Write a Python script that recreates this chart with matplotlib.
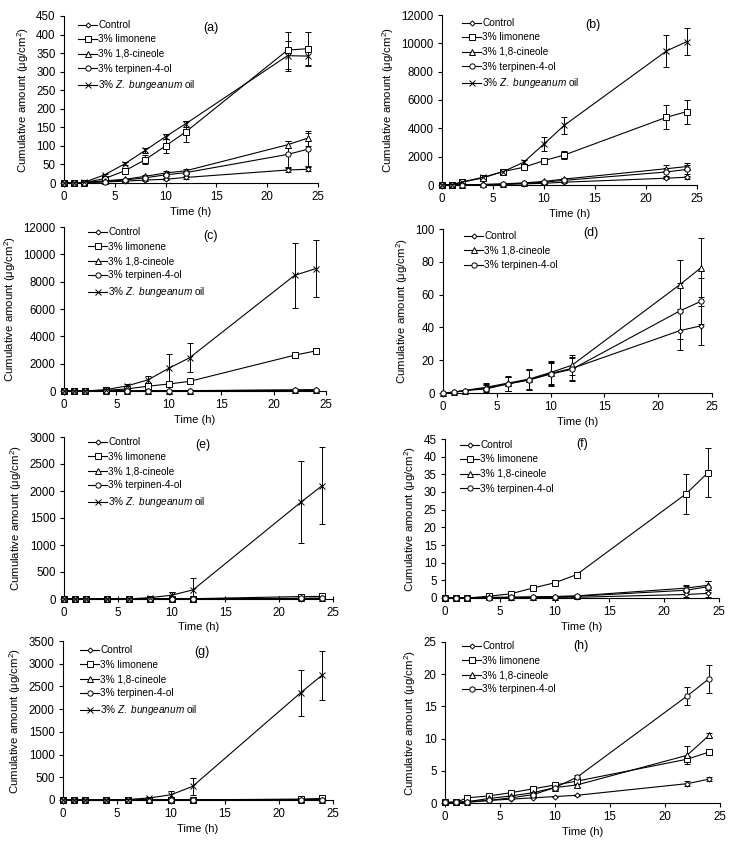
import matplotlib
matplotlib.use('Agg')
import matplotlib.pyplot as plt

plt.rcParams['font.family'] = ['Liberation Sans', 'DejaVu Sans']
plt.rcParams['mathtext.fontset'] = 'custom'
plt.rcParams['mathtext.rm'] = 'Liberation Sans'
plt.rcParams['mathtext.it'] = 'Liberation Sans:italic'

time = [0, 1, 2, 4, 6, 8, 10, 12, 22, 24]

labels = ['Control', '3% limonene', '3% 1,8-cineole', '3% terpinen-4-ol',
          r'3% $\mathit{Z.\ bungeanum}$ oil']

# panel (a)
a_mean = {
    'control':   [0, 0, 1, 3, 5, 8, 10, 15, 35, 37],
    'limonene':  [0, 0, 1, 12, 33, 63, 100, 138, 358, 362],
    'cineole':   [0, 0, 1, 6, 10, 18, 27, 33, 103, 121],
    'terpinen':  [0, 0, 1, 4, 8, 14, 22, 28, 77, 91],
    'zb':        [0, 0, 2, 22, 52, 88, 125, 160, 343, 342],
}
a_err = {
    'control':   [0, 0, 0, 1, 1, 2, 3, 3, 5, 6],
    'limonene':  [0, 0, 0, 3, 8, 12, 18, 28, 50, 45],
    'cineole':   [0, 0, 0, 1, 2, 3, 4, 5, 10, 20],
    'terpinen':  [0, 0, 0, 1, 2, 3, 4, 5, 35, 45],
    'zb':        [0, 0, 0, 3, 4, 6, 7, 8, 40, 28],
}

# panel (b)
b_mean = {
    'control':   [0, 0, 5, 20, 40, 80, 120, 200, 480, 550],
    'limonene':  [0, 30, 200, 500, 950, 1250, 1720, 2120, 4780, 5180],
    'cineole':   [0, 0, 10, 40, 80, 150, 250, 420, 1150, 1300],
    'terpinen':  [0, 0, 10, 30, 60, 120, 200, 330, 920, 1100],
    'zb':        [0, 30, 220, 540, 950, 1600, 2900, 4220, 9460, 10120],
}
b_err = {
    'control':   [0, 0, 0, 5, 10, 20, 30, 40, 80, 100],
    'limonene':  [0, 0, 20, 50, 80, 120, 200, 300, 850, 850],
    'cineole':   [0, 0, 0, 10, 20, 30, 50, 80, 250, 250],
    'terpinen':  [0, 0, 0, 10, 20, 30, 50, 80, 300, 300],
    'zb':        [0, 0, 20, 60, 100, 150, 500, 600, 1150, 950],
}

# panel (c)
c_mean = {
    'control':   [0, 0, 0, 2, 4, 6, 10, 12, 40, 50],
    'limonene':  [0, 0, 0, 50, 150, 350, 510, 710, 2620, 2930],
    'cineole':   [0, 0, 0, 5, 10, 15, 20, 30, 80, 100],
    'terpinen':  [0, 0, 0, 3, 6, 10, 15, 20, 60, 70],
    'zb':        [0, 0, 0, 100, 370, 810, 1660, 2440, 8460, 8950],
}
c_err = {
    'control':   [0, 0, 0, 1, 2, 3, 4, 5, 10, 15],
    'limonene':  [0, 0, 0, 20, 40, 60, 80, 100, 150, 200],
    'cineole':   [0, 0, 0, 2, 3, 5, 6, 8, 20, 25],
    'terpinen':  [0, 0, 0, 1, 2, 3, 5, 6, 15, 20],
    'zb':        [0, 0, 0, 60, 150, 300, 1050, 1070, 2400, 2100],
}

# panel (d)
d_mean = {
    'control':   [0, 0.5, 1.5, 3, 5.5, 8, 12, 15, 38, 41],
    'cineole':   [0, 0.5, 1.5, 3.5, 6, 8.5, 12.5, 17, 66, 76.5],
    'terpinen':  [0, 0.5, 1.5, 2.5, 5.5, 8, 11.5, 14.5, 50, 56],
}
d_err = {
    'control':   [0, 0.3, 0.5, 2.5, 4.5, 6, 7, 7, 11.5, 12],
    'cineole':   [0, 0.3, 0.5, 2.5, 4.5, 6, 7, 6, 15, 18],
    'terpinen':  [0, 0.3, 0.5, 2.5, 4.5, 6, 7, 7, 17, 14],
}

# panel (e)
e_mean = {
    'control':   [0, 0, 0, 0, 0, 1, 2, 3, 8, 10],
    'limonene':  [0, 0, 0, 0, 1, 2, 4, 6, 45, 48],
    'cineole':   [0, 0, 0, 0, 0, 1, 2, 3, 12, 15],
    'terpinen':  [0, 0, 0, 0, 0, 1, 2, 3, 10, 12],
    'zb':        [0, 0, 0, 0, 2, 25, 70, 170, 1790, 2100],
}
e_err = {
    'control':   [0, 0, 0, 0, 0, 0, 1, 1, 3, 4],
    'limonene':  [0, 0, 0, 0, 0, 1, 2, 3, 20, 20],
    'cineole':   [0, 0, 0, 0, 0, 0, 1, 1, 5, 6],
    'terpinen':  [0, 0, 0, 0, 0, 0, 1, 1, 5, 6],
    'zb':        [0, 0, 0, 0, 2, 15, 65, 220, 760, 720],
}

# panel (f)
f_mean = {
    'control':   [0, 0, 0, 0, 0.1, 0.1, 0.2, 0.2, 1.0, 1.3],
    'limonene':  [0, 0, 0, 0.5, 1.2, 2.8, 4.3, 6.6, 29.5, 35.5],
    'cineole':   [0, 0, 0, 0.2, 0.2, 0.3, 0.4, 0.6, 2.8, 3.6],
    'terpinen':  [0, 0, 0, 0.1, 0.2, 0.3, 0.4, 0.5, 2.2, 3.2],
}
f_err = {
    'control':   [0, 0, 0, 0, 0, 0, 0.1, 0.1, 0.6, 0.9],
    'limonene':  [0, 0, 0, 0.1, 0.2, 0.3, 0.4, 0.9, 5.7, 7.0],
    'cineole':   [0, 0, 0, 0, 0.1, 0.1, 0.1, 0.2, 0.8, 1.3],
    'terpinen':  [0, 0, 0, 0, 0.1, 0.1, 0.1, 0.2, 1.2, 1.5],
}

# panel (g)
g_mean = {
    'control':   [0, 0, 0, 0, 0, 1, 1, 2, 6, 8],
    'limonene':  [0, 0, 0, 0, 1, 2, 3, 4, 20, 35],
    'cineole':   [0, 0, 0, 0, 0, 1, 2, 3, 8, 10],
    'terpinen':  [0, 0, 0, 0, 0, 1, 2, 3, 7, 9],
    'zb':        [0, 0, 0, 0, 10, 45, 115, 300, 2360, 2750],
}
g_err = {
    'control':   [0, 0, 0, 0, 0, 0, 0, 1, 2, 3],
    'limonene':  [0, 0, 0, 0, 0, 1, 1, 2, 10, 15],
    'cineole':   [0, 0, 0, 0, 0, 0, 1, 1, 3, 4],
    'terpinen':  [0, 0, 0, 0, 0, 0, 1, 1, 3, 4],
    'zb':        [0, 0, 0, 0, 5, 20, 80, 190, 510, 540],
}

# panel (h)
h_mean = {
    'control':   [0.1, 0.1, 0.1, 0.4, 0.6, 0.8, 1.0, 1.2, 3.0, 3.7],
    'limonene':  [0.1, 0.1, 0.8, 1.1, 1.6, 2.2, 2.8, 3.4, 6.8, 7.9],
    'cineole':   [0.1, 0.1, 0.2, 0.7, 1.1, 1.6, 2.4, 2.8, 7.4, 10.5],
    'terpinen':  [0.1, 0.1, 0.2, 0.4, 0.8, 1.3, 2.4, 4.0, 16.6, 19.3],
}
h_err = {
    'control':   [0, 0, 0, 0.05, 0.05, 0.1, 0.1, 0.1, 0.4, 0.3],
    'limonene':  [0, 0, 0.1, 0.1, 0.1, 0.2, 0.3, 0.3, 0.4, 0.5],
    'cineole':   [0, 0, 0, 0.1, 0.1, 0.1, 0.2, 0.3, 1.4, 0.3],
    'terpinen':  [0, 0, 0, 0.1, 0.1, 0.1, 0.2, 0.3, 1.4, 2.2],
}

series_keys = ['control', 'limonene', 'cineole', 'terpinen', 'zb']
series_label = dict(zip(series_keys, labels))
series_marker = {'control': ('D', 2.6), 'limonene': ('s', 3.8),
                 'cineole': ('^', 3.8), 'terpinen': ('o', 3.8),
                 'zb': ('x', 3.8)}

W, H = 744, 841
fig = plt.figure(figsize=(W / 100, H / 100), dpi=100)

# tag, data, pixel box (left, right, top, bottom), ymax, ystep,
# panel tag position, legend offset in px from axes top-left
panels = [
    ('(a)', a_mean, a_err, (64, 318, 16, 183), 450, 50, (0.58, 0.93), (14, 11)),
    ('(b)', b_mean, b_err, (442, 697, 15, 185), 12000, 2000, (0.59, 0.94), (20, 10)),
    ('(c)', c_mean, c_err, (64, 326, 227, 391), 12000, 2000, (0.56, 0.945), (24, 7)),
    ('(d)', d_mean, d_err, (443, 712, 229, 393), 100, 20, (0.55, 0.975), (21, 9)),
    ('(e)', e_mean, e_err, (64, 333, 437, 599), 3000, 500, (0.515, 0.95), (24, 7)),
    ('(f)', f_mean, f_err, (445, 719, 439, 598), 45, 5, (0.50, 0.97), (15, 8)),
    ('(g)', g_mean, g_err, (63, 333, 641, 800), 3500, 500, (0.515, 0.93), (17, 11)),
    ('(h)', h_mean, h_err, (445, 720, 642, 803), 25, 5, (0.495, 0.975), (17, 6)),
]

for tag, means, errs, box, ymax, ystep, tagpos, legoff in panels:
    l, r, t, b = box
    aw, ah = r - l, b - t
    ax = fig.add_axes([l / W, 1 - b / H, aw / W, ah / H])
    for key in series_keys:
        if key not in means:
            continue
        m, ms = series_marker[key]
        ax.errorbar(time, means[key], yerr=errs[key], fmt='none',
                    ecolor='black', elinewidth=0.7, capsize=2,
                    capthick=0.7, clip_on=False, zorder=2)
        ax.plot(time, means[key], color='black', lw=0.8, marker=m,
                ms=ms, mfc='white', mec='black', mew=0.7,
                label=series_label[key], clip_on=False, zorder=3)
    ax.set_xlim(0, 25)
    ax.set_ylim(0, ymax)
    ax.set_xticks(range(0, 26, 5))
    ax.set_yticks(range(0, ymax + 1, ystep))
    ax.spines['top'].set_visible(False)
    ax.spines['right'].set_visible(False)
    for s in ['left', 'bottom']:
        ax.spines[s].set_linewidth(0.8)
    ax.tick_params(labelsize=8.3, length=3, width=0.8, pad=3)
    if tag == '(e)':
        ax.tick_params(axis='x', direction='inout', length=5)
    ax.set_xlabel('Time (h)', fontsize=8, labelpad=2.5)
    ax.set_ylabel(r'Cumulative amount (μg/cm$^2$)', fontsize=8.2, labelpad=4)
    ax.text(tagpos[0], tagpos[1], tag, transform=ax.transAxes, fontsize=9,
            ha='center', va='center')
    dx, dy = legoff
    ax.legend(loc='upper left', bbox_to_anchor=(dx / aw, 1 - (dy - 7) / ah),
              frameon=False, fontsize=7.2, handlelength=1.9,
              handletextpad=0.15, labelspacing=0.45, borderpad=0,
              borderaxespad=0)

fig.savefig('out.png', dpi=100)
